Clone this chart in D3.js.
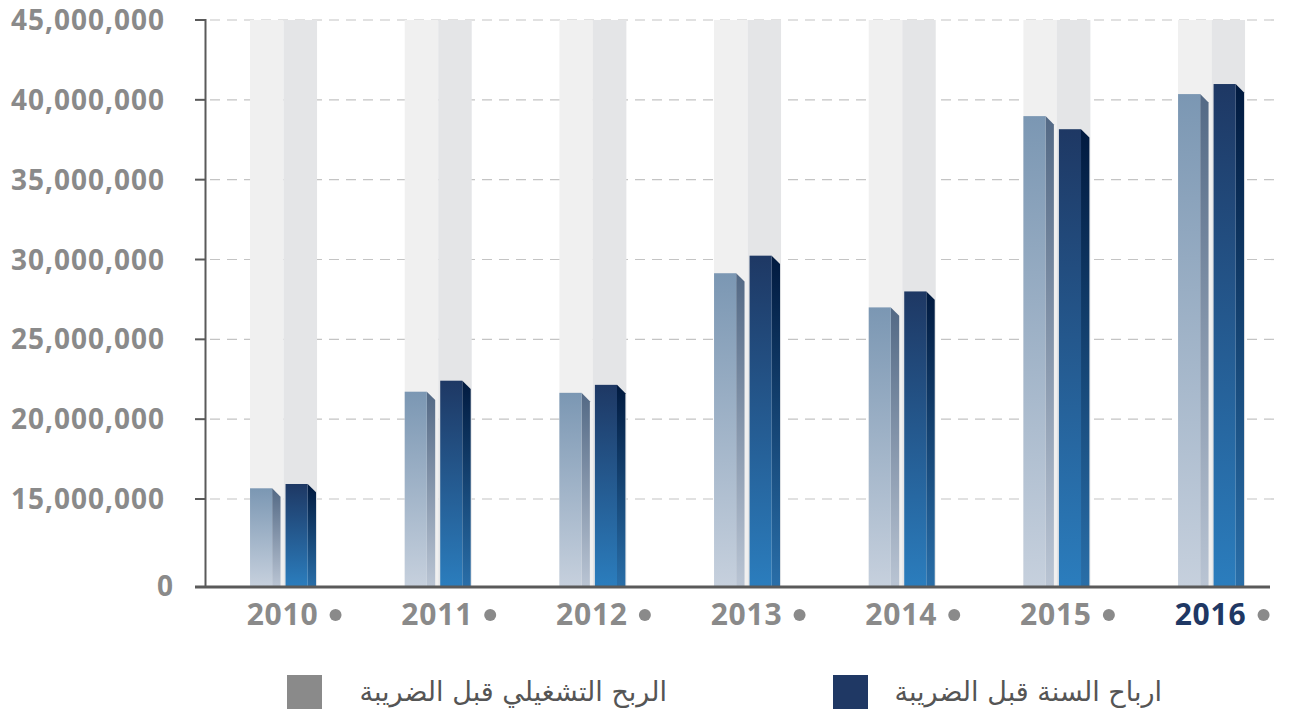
<!DOCTYPE html>
<html>
<head>
<meta charset="utf-8">
<script src="https://cdn.jsdelivr.net/npm/d3@7"></script>
<style>
  body { margin: 0; background: #fff; }
  .tick-label { font-family: "Open Sans", sans-serif; font-weight: 700; fill: #8a8a8a; }
  .legend-text { font-family: "DejaVu Sans", sans-serif; fill: #555; }
</style>
</head>
<body>
<script>
// Chart data
const years = ["2010", "2011", "2012", "2013", "2014", "2015", "2016"];
const operatingProfit = [15670000, 21720000, 21650000, 29140000, 27000000, 38980000, 40360000];
const yearProfit = [15940000, 22410000, 22150000, 30240000, 28000000, 38160000, 40990000];
const yTicks = [0, 15000000, 20000000, 25000000, 30000000, 35000000, 40000000, 45000000];
const legendLabels = ["الربح التشغيلي قبل الضريبة", "ارباح السنة قبل الضريبة"];

const width = 1291, height = 718;

const svg = d3.select("body").append("svg")
    .attr("width", width)
    .attr("height", height);

// gradients
const defs = svg.append("defs");
function grad(id, c1, c2) {
    const g = defs.append("linearGradient").attr("id", id)
        .attr("x1", 0).attr("y1", 0).attr("x2", 0).attr("y2", 1);
    g.append("stop").attr("offset", "0%").attr("stop-color", c1);
    g.append("stop").attr("offset", "100%").attr("stop-color", c2);
}
grad("g1front", "#7b97b3", "#c6d0dd");
grad("g1side", "#536985", "#b9c4d3");
grad("g2front", "#1e3864", "#2b7dbd");
grad("g2side", "#011a3f", "#296ea8");

// scales: axis is compressed between 0 and 15M
const y = d3.scaleLinear()
    .domain([0, 15000000, 45000000])
    .range([586, 499, 20]);

const x = d3.scaleBand()
    .domain(years)
    .range([172.7, 1322.4])
    .paddingInner(0.5668)
    .paddingOuter(0.5);

const bw = x.bandwidth();
const plotTop = y(45000000), base = y(0);

// grid lines
svg.append("g")
    .selectAll("line")
    .data(yTicks.filter(d => d > 0))
    .enter().append("line")
    .attr("x1", 210).attr("x2", 1276)
    .attr("y1", d => y(d)).attr("y2", d => y(d))
    .attr("stroke", "#c4c4c4")
    .attr("stroke-width", 1.2)
    .attr("stroke-dasharray", "10,7");

// background columns
const groups = svg.append("g").selectAll("g")
    .data(years)
    .enter().append("g")
    .attr("transform", d => `translate(${x(d)},0)`);

groups.append("rect")
    .attr("x", 0).attr("y", plotTop)
    .attr("width", bw / 2).attr("height", base - plotTop)
    .attr("fill", "#f0f0f0");
groups.append("rect")
    .attr("x", bw / 2).attr("y", plotTop)
    .attr("width", bw / 2).attr("height", base - plotTop)
    .attr("fill", "#e4e5e7");

// bars with a small 3d side face
const faceW = bw * 0.33, sideW = bw * 0.125;
function drawBar(values, offset, front, side) {
    groups.append("polygon")
        .attr("points", (d, i) => {
            const yt = y(values[i]);
            const x0 = offset + faceW;
            return [[x0, yt], [x0 + sideW, yt + sideW], [x0 + sideW, base], [x0, base]].join(" ");
        })
        .attr("fill", `url(#${side})`);
    groups.append("rect")
        .attr("x", offset)
        .attr("y", (d, i) => y(values[i]))
        .attr("width", faceW)
        .attr("height", (d, i) => base - y(values[i]))
        .attr("fill", `url(#${front})`);
}
drawBar(operatingProfit, 0, "g1front", "g1side");
drawBar(yearProfit, bw * 0.53, "g2front", "g2side");

// y axis
svg.append("line")
    .attr("x1", 205.5).attr("x2", 205.5)
    .attr("y1", plotTop - 1).attr("y2", base)
    .attr("stroke", "#5a5a5a").attr("stroke-width", 2);

svg.append("g")
    .selectAll("line")
    .data(yTicks.filter(d => d > 0))
    .enter().append("line")
    .attr("x1", 195).attr("x2", 206)
    .attr("y1", d => y(d)).attr("y2", d => y(d))
    .attr("stroke", "#5a5a5a").attr("stroke-width", 2);

svg.append("g")
    .selectAll("text")
    .data(yTicks)
    .enter().append("text")
    .attr("class", "tick-label")
    .attr("x", d => d === 0 ? 174 : 165)
    .attr("y", d => y(d))
    .attr("dy", "0.36em")
    .attr("text-anchor", "end")
    .style("font-size", "28px")
    .style("letter-spacing", "1px")
    .text(d => d3.format(",")(d));

// x axis
svg.append("line")
    .attr("x1", 195).attr("x2", 1270)
    .attr("y1", base + 1).attr("y2", base + 1)
    .attr("stroke", "#5a5a5a").attr("stroke-width", 3);

const xl = svg.append("g").selectAll("g")
    .data(years)
    .enter().append("g")
    .attr("transform", d => `translate(${x(d) + bw / 2},0)`);
xl.append("text")
    .attr("class", "tick-label")
    .attr("x", -1)
    .attr("y", 625)
    .attr("text-anchor", "middle")
    .style("font-size", "30px")
    .style("letter-spacing", "0.8px")
    .style("fill", d => d === "2016" ? "#1f3864" : "#8a8a8a")
    .text(d => d);
xl.append("circle")
    .attr("cx", 52).attr("cy", 615).attr("r", 6)
    .attr("fill", "#8a8a8a");

// legend
const legendColors = ["#8a8a8a", "#1f3864"];
const legendX = [287, 833];
const legendTextX = [667, 1162];
const lg = svg.append("g").selectAll("g")
    .data(legendLabels)
    .enter().append("g");
lg.append("rect")
    .attr("x", (d, i) => legendX[i]).attr("y", 675)
    .attr("width", 35).attr("height", 34)
    .attr("fill", (d, i) => legendColors[i]);
lg.append("text")
    .attr("class", "legend-text")
    .attr("x", (d, i) => legendTextX[i])
    .attr("y", 701)
    .attr("text-anchor", "end")
    .style("font-size", "27px")
    .text(d => d);
</script>
</body>
</html>
